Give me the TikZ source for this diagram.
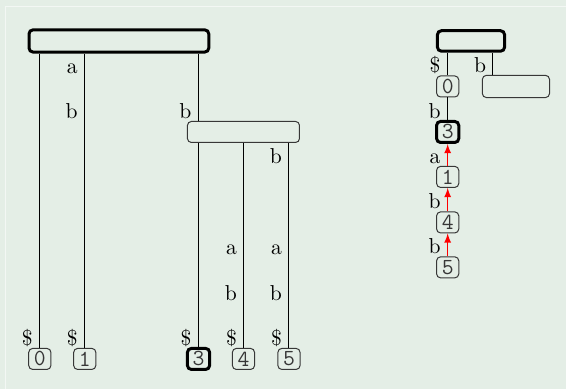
\documentclass[tikz,border=0pt]{standalone}
\usetikzlibrary{positioning}

\definecolor{bgc}{RGB}{228,238,230}
\definecolor{boxline}{RGB}{55,55,55}

\tikzset{
  treenode/.style={draw=boxline, rounded corners=0.07cm, inner sep=0pt},
  rootnode/.style={treenode, draw=black, line width=1.5pt},
  leaf/.style={treenode, minimum width=0.39cm, minimum height=0.37cm,
    font=\fontsize{11.5}{13}\selectfont\ttfamily, text=boxline},
  marked/.style={draw=black, line width=1.5pt},
  lab/.style={anchor=base east},
  sufflink/.style={-latex, red, semithick},
}

\begin{document}
\begin{tikzpicture}[font=\fontsize{10.8}{13}\selectfont, line width=0.5pt]
			\fill[bgc] (0,0) rectangle (9.95,6.84);
			\useasboundingbox (0,0) rectangle (9.95,6.84);
			\draw[white!55!bgc] (0.09,0) -- (0.09,6.73) -- (9.95,6.73);

			% full tree
			\node (root) at (2.09, 6.12) [rootnode, minimum width=3.16cm, minimum height=0.39cm] {};
			\node (in) at (4.28, 4.52) [treenode, minimum width=1.97cm, minimum height=0.37cm] {};
			\node (l0) at (0.70, 0.53) [leaf] {0};
			\node (l1) at (1.49, 0.53) [leaf] {1};
			\node (l3) at (3.49, 0.53) [leaf, marked] {3};
			\node (l4) at (4.28, 0.53) [leaf] {4};
			\node (l5) at (5.08, 0.53) [leaf] {5};

			\draw (l0.north) -- (l0.north |- root.south);
			\draw (l1.north) -- (l1.north |- root.south);
			\draw (l3.north |- in.north) -- (l3.north |- root.south);
			\draw (l3.north) -- (l3.north |- in.south);
			\draw (l4.north) -- (l4.north |- in.south);
			\draw (l5.north) -- (l5.north |- in.south);

			\node (e0) at (0.70, 0.76) [lab] {\$};
			\node (e1a) at (1.49, 5.55) [lab] {a};
			\node (e1b) at (1.49, 4.75) [lab] {b};
			\node (e1) at (1.49, 0.76) [lab] {\$};
			\node (ein) at (3.49, 4.75) [lab] {b};
			\node (e3) at (3.49, 0.76) [lab] {\$};
			\node (e4a) at (4.29, 2.36) [lab] {a};
			\node (e4b) at (4.29, 1.56) [lab] {b};
			\node (e4) at (4.29, 0.76) [lab] {\$};
			\node (e5b) at (5.08, 3.96) [lab] {b};
			\node (e5a) at (5.08, 2.36) [lab] {a};
			\node (e5c) at (5.08, 1.56) [lab] {b};
			\node (e5) at (5.08, 0.76) [lab] {\$};

			% reduced tree with suffix links
			\node (rroot) at (8.28, 6.12) [rootnode, minimum width=1.18cm, minimum height=0.36cm] {};
			\node (rin) at (9.07, 5.32) [treenode, minimum width=1.18cm, minimum height=0.39cm] {};
			\node (r0) at (7.87, 5.32) [leaf] {0};
			\node (r3) at (7.87, 4.52) [leaf, marked] {3};
			\node (r1) at (7.87, 3.73) [leaf] {1};
			\node (r4) at (7.87, 2.93) [leaf] {4};
			\node (r5) at (7.87, 2.14) [leaf] {5};
			\coordinate (rb) at ([xshift=0.19cm]rin.north west);

			\draw (r0.north) -- (r0.north |- rroot.south);
			\draw (rb) -- (rb |- rroot.south);
			\draw (r0) -- (r3);
			\draw[sufflink] (r1) -- (r3);
			\draw[sufflink] (r4) -- (r1);
			\draw[sufflink] (r5) -- (r4);

			\node (f0) at (7.87, 5.56) [lab] {\$};
			\node (fin) at (8.67, 5.56) [lab] {b};
			\node (f3) at (7.87, 4.76) [lab] {b};
			\node (f1) at (7.87, 3.97) [lab] {a};
			\node (f4) at (7.87, 3.18) [lab] {b};
			\node (f5) at (7.87, 2.39) [lab] {b};
\end{tikzpicture}
\end{document}
